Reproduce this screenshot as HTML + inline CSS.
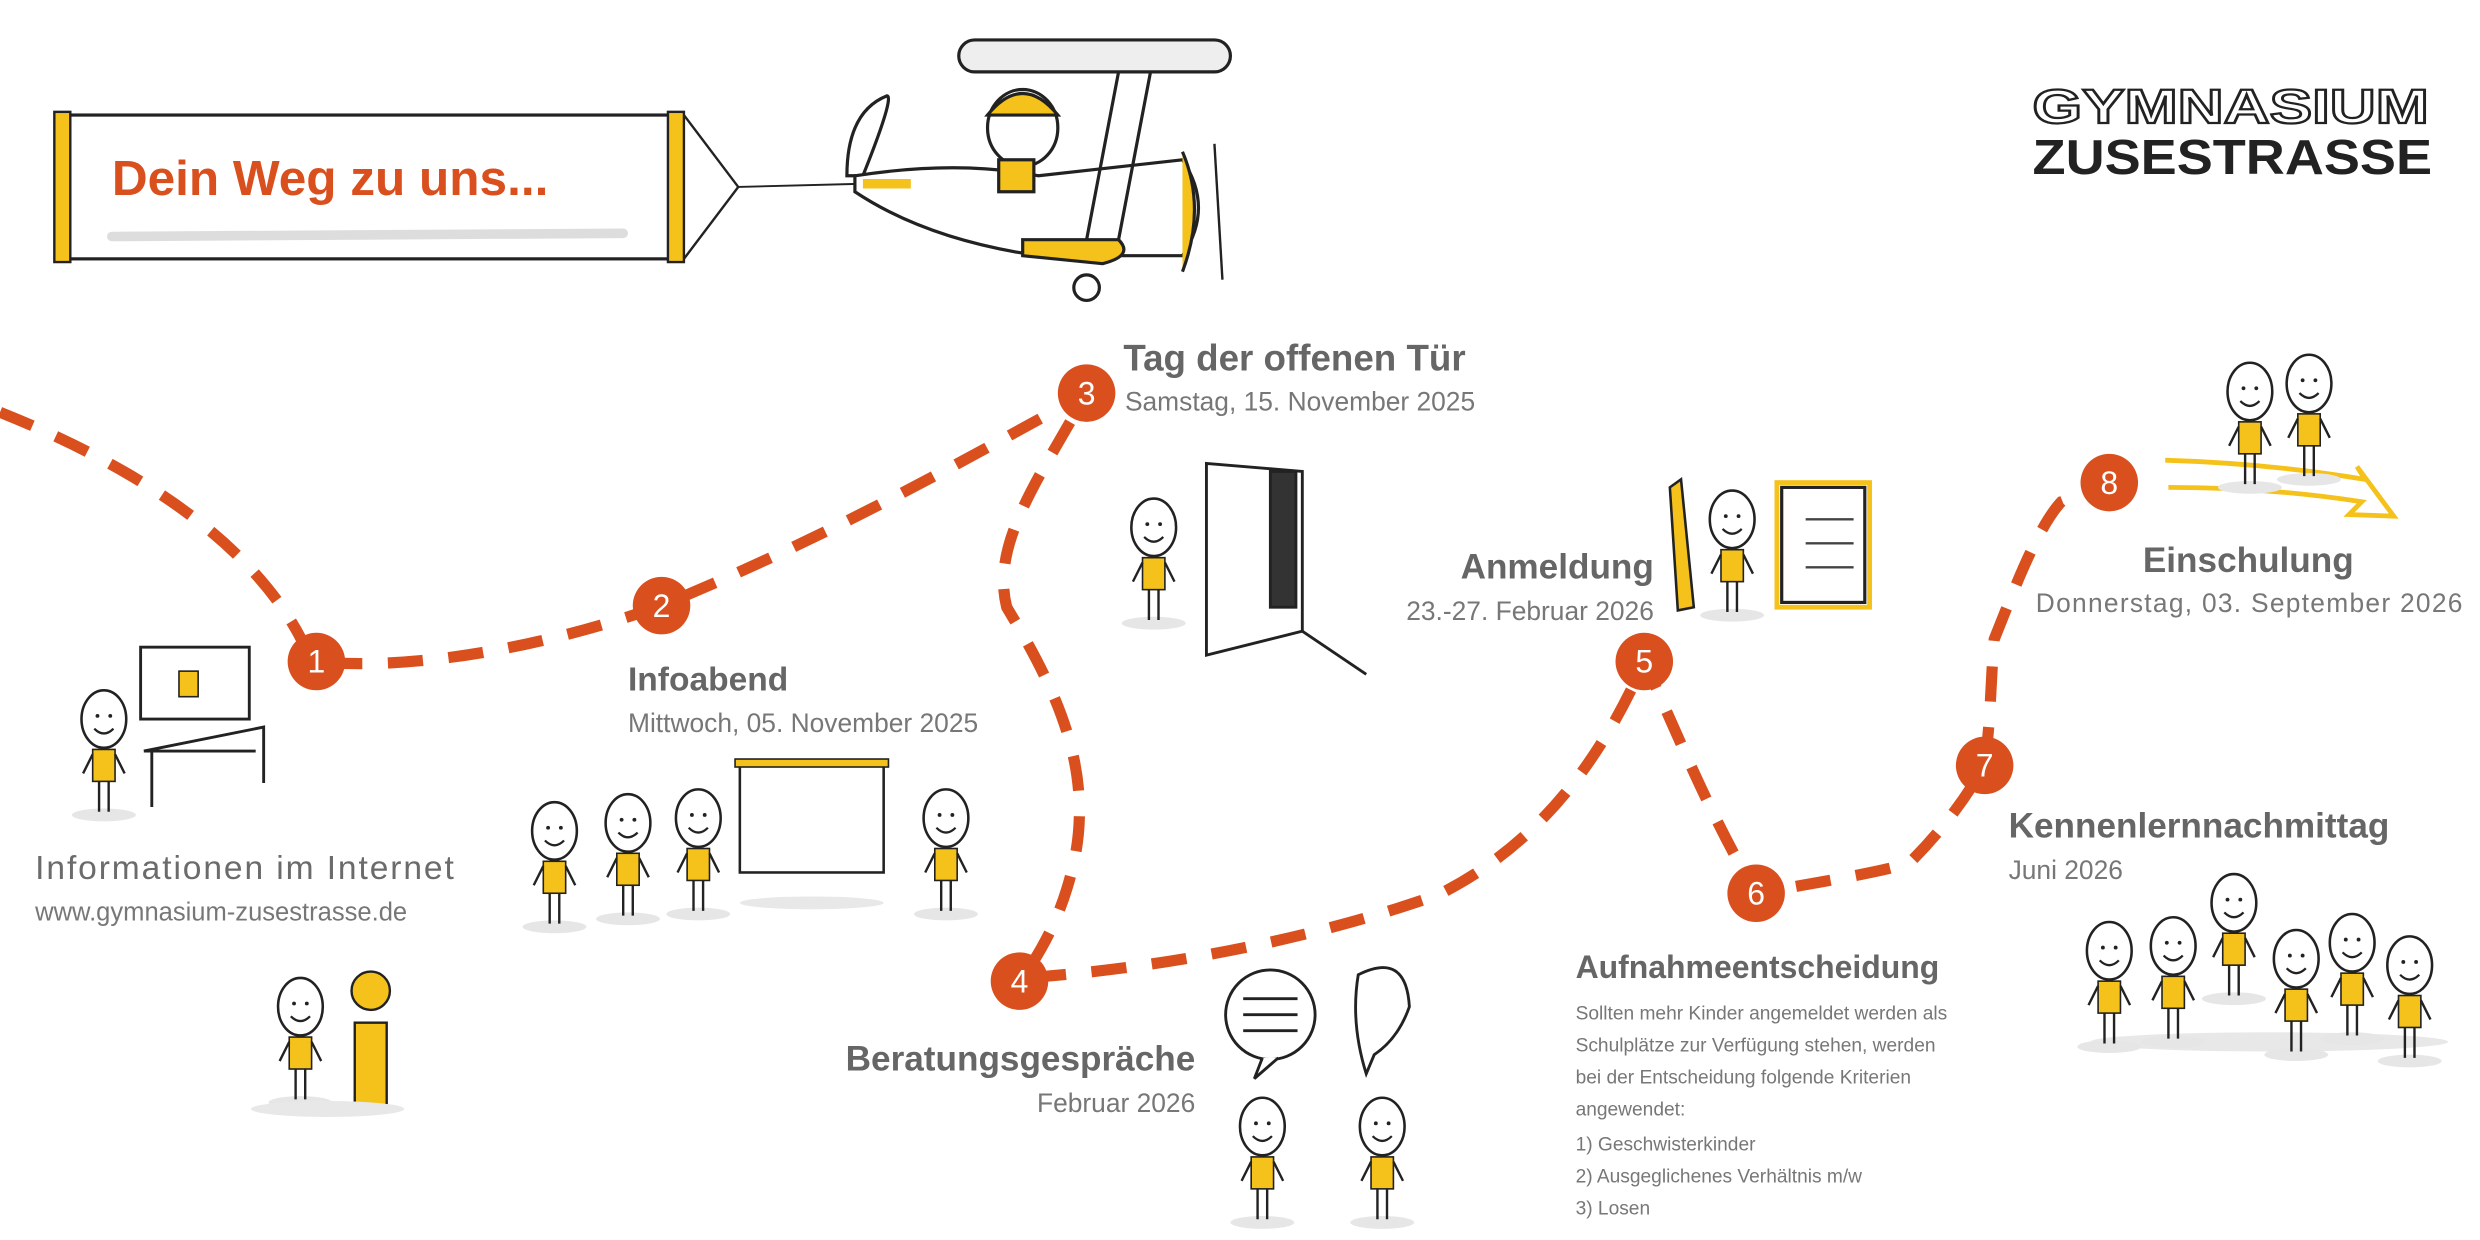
<!DOCTYPE html>
<html><head><meta charset="utf-8"><style>
html,body{margin:0;padding:0;background:#fff;}
svg{display:block;}
text{font-family:"Liberation Sans",sans-serif;}
.h{font-weight:bold;fill:#666;}
.s{fill:#777;}
</style></head><body>
<svg width="2480" height="1240" viewBox="0 0 1552 776" xmlns="http://www.w3.org/2000/svg">
<defs>
<g id="fig">
  <ellipse cx="0" cy="60" rx="20" ry="4" fill="#e6e6e6"/>
  <ellipse cx="0" cy="0" rx="14" ry="18" fill="#fff" stroke="#222" stroke-width="1.6"/>
  <circle cx="-4" cy="-2" r="1.2" fill="#222"/><circle cx="4" cy="-2" r="1.2" fill="#222"/>
  <path d="M-6 6 Q0 12 6 6" fill="none" stroke="#222" stroke-width="1.4"/>
  <rect x="-7" y="19" width="14" height="20" fill="#f5c21b" stroke="#222" stroke-width="1"/>
  <path d="M-3 39 L-3 58 M3 39 L3 58 M-7 22 L-13 34 M7 22 L13 34" stroke="#222" stroke-width="1.5" fill="none"/>
</g>
</defs>

<!-- banner -->
<rect x="38" y="72" width="388" height="90" fill="#fff" stroke="#222" stroke-width="2"/>
<rect x="34" y="70" width="10" height="94" fill="#f5c21b" stroke="#222" stroke-width="1.5"/>
<rect x="418" y="70" width="10" height="94" fill="#f5c21b" stroke="#222" stroke-width="1.5"/>
<path d="M428 72 L462 117 L428 162" fill="none" stroke="#222" stroke-width="1.5"/>
<path d="M462 117 L540 115" stroke="#222" stroke-width="1.2"/>
<path d="M70 148 L390 146" stroke="#ddd" stroke-width="6" stroke-linecap="round"/>
<text x="70" y="122" font-size="31" font-weight="bold" fill="#d9501e">Dein Weg zu uns...</text>

<!-- plane -->
<g stroke="#222" stroke-width="2" fill="#fff">
  <rect x="600" y="25" width="170" height="20" rx="10" fill="#eee"/>
  <path d="M540 110 Q560 60 555 60 Q530 70 530 110 Z"/>
  <path d="M535 110 Q600 100 650 110 L740 100 Q760 130 740 160 L650 160 Q580 150 535 120 Z"/>
  <path d="M640 150 L700 150 Q710 160 690 165 L640 160 Z" fill="#f5c21b"/>
  <ellipse cx="640" cy="80" rx="22" ry="24"/>
  <path d="M618 72 Q640 45 662 72 Z" fill="#f5c21b"/>
  <rect x="625" y="100" width="22" height="20" fill="#f5c21b"/>
  <path d="M700 45 L680 150 M720 45 L700 150"/>
  <path d="M740 95 Q755 130 740 170" fill="#f5c21b"/>
  <path d="M760 90 L765 175" stroke-width="1.5"/>
  <circle cx="680" cy="180" r="8"/>
</g>
<path d="M540 115 L570 115" stroke="#f5c21b" stroke-width="6"/>

<!-- logo -->
<text x="1272" y="77" font-size="30" font-weight="bold" fill="#fff" stroke="#222" stroke-width="1.4" textLength="248" lengthAdjust="spacingAndGlyphs">GYMNASIUM</text>
<text x="1272" y="109" font-size="31" font-weight="bold" fill="#222" textLength="250" lengthAdjust="spacingAndGlyphs">ZUSESTRASSE</text>

<!-- dashed path -->
<path d="M0 258 C80 290 165 340 195 414 C260 420 340 405 414 379 C520 335 600 290 680 246 C650 300 620 340 630 380 C660 430 685 480 672 540 C665 570 655 590 640 612 C700 608 800 595 900 560 C960 530 1000 480 1029 414 C1050 460 1070 510 1099 559 C1140 552 1180 545 1195 540 C1215 520 1230 500 1242 479 C1246 450 1246 420 1248 400 C1260 370 1275 330 1290 314 L1320 302" fill="none" stroke="#d9501e" stroke-width="7" stroke-dasharray="22 16"/>

<g fill="#d9501e">
<circle cx="198" cy="414" r="18"/><circle cx="414" cy="379" r="18"/><circle cx="680" cy="246" r="18"/>
<circle cx="638" cy="614" r="18"/><circle cx="1029" cy="414" r="18"/><circle cx="1099" cy="559" r="18"/>
<circle cx="1242" cy="479" r="18"/><circle cx="1320" cy="302" r="18"/>
</g>
<g fill="#fff" font-size="20" text-anchor="middle">
<text x="198" y="421">1</text><text x="414" y="386">2</text><text x="680" y="253">3</text><text x="638" y="621">4</text>
<text x="1029" y="421">5</text><text x="1099" y="566">6</text><text x="1242" y="486">7</text><text x="1320" y="309">8</text>
</g>

<!-- labels -->
<text x="703" y="232" font-size="23" class="h">Tag der offenen Tür</text>
<text x="704" y="257" font-size="16.5" class="s">Samstag, 15. November 2025</text>
<text x="1035" y="362" font-size="22" class="h" text-anchor="end">Anmeldung</text>
<text x="1035" y="388" font-size="16.5" class="s" text-anchor="end">23.-27. Februar 2026</text>
<text x="1407" y="358" font-size="22" class="h" text-anchor="middle">Einschulung</text>
<text x="1274" y="383" font-size="16.5" class="s" textLength="267">Donnerstag, 03. September 2026</text>
<text x="393" y="432" font-size="21" class="h">Infoabend</text>
<text x="393" y="458" font-size="16.5" class="s">Mittwoch, 05. November 2025</text>
<text x="22" y="550" font-size="21" fill="#6b6b6b" textLength="262">Informationen im Internet</text>
<text x="22" y="576" font-size="16" class="s">www.gymnasium-zusestrasse.de</text>
<text x="748" y="670" font-size="22" class="h" text-anchor="end">Beratungsgespräche</text>
<text x="748" y="696" font-size="16.5" class="s" text-anchor="end">Februar 2026</text>
<text x="1257" y="524" font-size="22" class="h">Kennenlernnachmittag</text>
<text x="1257" y="550" font-size="16.5" class="s">Juni 2026</text>
<text x="986" y="612" font-size="20" class="h">Aufnahmeentscheidung</text>
<g font-size="12" class="s">
<text x="986" y="638">Sollten mehr Kinder angemeldet werden als</text>
<text x="986" y="658">Schulplätze zur Verfügung stehen, werden</text>
<text x="986" y="678">bei der Entscheidung folgende Kriterien</text>
<text x="986" y="698">angewendet:</text>
<text x="986" y="720">1) Geschwisterkinder</text>
<text x="986" y="740">2) Ausgeglichenes Verhältnis m/w</text>
<text x="986" y="760">3) Losen</text>
</g>

<!-- computer scene -->
<g stroke="#222" stroke-width="1.8" fill="#fff">
<rect x="88" y="405" width="68" height="45"/>
<path d="M90 470 L165 455 L165 490 M95 470 L95 505 M90 470 L160 470"/>
<rect x="112" y="420" width="12" height="16" fill="#f5c21b" stroke-width="1"/>
</g>
<use href="#fig" x="65" y="450"/>
<!-- info i -->
<use href="#fig" x="188" y="630"/>
<g stroke="#222" stroke-width="1.5" fill="#f5c21b">
<circle cx="232" cy="620" r="12"/><rect x="222" y="640" width="20" height="52"/>
</g>
<ellipse cx="205" cy="694" rx="48" ry="5" fill="#e8e8e8"/>

<!-- infoabend -->
<rect x="463" y="478" width="90" height="68" fill="#fff" stroke="#222" stroke-width="1.6"/>
<rect x="460" y="475" width="96" height="5" fill="#f5c21b" stroke="#222" stroke-width="1"/>
<ellipse cx="508" cy="565" rx="45" ry="4" fill="#e8e8e8"/>
<use href="#fig" x="347" y="520"/><use href="#fig" x="393" y="515"/><use href="#fig" x="437" y="512"/><use href="#fig" x="592" y="512"/>

<!-- door -->
<g stroke="#222" stroke-width="1.8" fill="#fff">
<path d="M755 290 L815 295 L815 395 L755 410 Z"/>
<rect x="795" y="295" width="16" height="85" fill="#333"/>
<path d="M815 395 L855 422"/>
</g>
<use href="#fig" x="722" y="330"/>

<!-- anmeldung -->
<g stroke="#222" stroke-width="1.6" fill="#f5c21b">
<path d="M1045 305 L1052 300 L1060 380 L1050 382 Z"/>
<rect x="1115" y="305" width="52" height="72" fill="#fff" stroke-width="2"/>
<rect x="1112" y="302" width="58" height="78" fill="none" stroke="#f5c21b" stroke-width="3"/>
</g>
<g stroke="#444" stroke-width="1.5"><path d="M1130 325 L1160 325 M1130 340 L1160 340 M1130 355 L1160 355"/></g>
<use href="#fig" x="1084" y="325"/>

<!-- beratung -->
<g stroke="#222" stroke-width="1.8" fill="#fff">
<ellipse cx="795" cy="635" rx="28" ry="28"/>
<path d="M790 662 L785 675 L800 662"/>
<path d="M778 625 L812 625 M778 635 L812 635 M778 645 L812 645"/>
<path d="M850 610 Q880 595 882 630 Q875 650 860 660 L855 672 Q845 640 850 610 Z"/>
</g>
<use href="#fig" x="790" y="705"/><use href="#fig" x="865" y="705"/>

<!-- einschulung -->
<path d="M1355 288 Q1420 290 1480 300 L1475 292 L1498 323 L1470 322 L1478 314 Q1420 305 1357 305" fill="none" stroke="#f5c21b" stroke-width="3"/>
<use href="#fig" x="1408" y="245"/><use href="#fig" x="1445" y="240"/>

<!-- kennenlern -->
<ellipse cx="1420" cy="652" rx="112" ry="6" fill="#e8e8e8"/>
<use href="#fig" x="1320" y="595"/><use href="#fig" x="1360" y="592"/><use href="#fig" x="1398" y="565"/>
<use href="#fig" x="1437" y="600"/><use href="#fig" x="1472" y="590"/><use href="#fig" x="1508" y="604"/>
</svg>
</body></html>
